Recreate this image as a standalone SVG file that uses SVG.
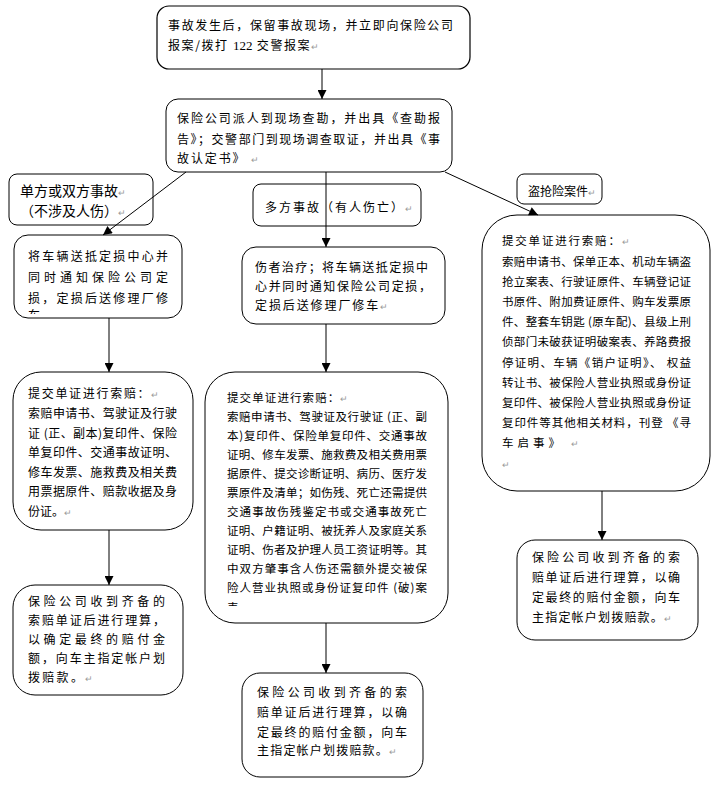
<svg xmlns="http://www.w3.org/2000/svg" width="720" height="792" viewBox="0 0 720 792">
<style>
.box{fill:#fff;stroke:#000;stroke-width:1}
.t{font-family:"Noto Sans CJK SC","Noto Sans CJK JP",sans-serif;font-size:12px;fill:#000}
.s{font-size:11.5px}
.lb{font-size:14px}
.pm{fill:#9a9a9a;font-size:9px}
.ser{font-family:"Liberation Serif",serif;font-size:13px}
.c{stroke:#000;stroke-width:1;fill:none;marker-end:url(#ah)}
</style>
<defs>
<marker id="ah" markerUnits="userSpaceOnUse" markerWidth="10" markerHeight="9" refX="9" refY="4.5" orient="auto" viewBox="0 0 9 9">
<path d="M0,0 L9,4.5 L0,9 Z" fill="#000"/>
</marker>
<clipPath id="clipL1"><rect x="14" y="236" width="168" height="78"/></clipPath>
<clipPath id="clipM2"><rect x="205" y="372" width="243" height="234"/></clipPath>
</defs>
<rect width="720" height="792" fill="#fff"/>

<g id="n-start">
<rect class="box" x="157" y="6" width="313" height="63" rx="12" style="stroke-width:1.2"/>
<text class="t" x="168" y="29.5" textLength="285" lengthAdjust="spacing">事故发生后，保留事故现场，并立即向保险公司</text>
<text class="t" x="168" y="49.5" letter-spacing="1.6">报案/拨打 <tspan class="ser" letter-spacing="0">122</tspan> 交警报案<tspan class="pm">↵</tspan></text>
</g>

<g id="n-survey">
<rect class="box" x="166" y="99" width="286" height="73" rx="12"/>
<text class="t" x="177" y="123" textLength="263" lengthAdjust="spacing">保险公司派人到现场查勘，并出具《查勘报</text>
<text class="t" x="177" y="143.5" textLength="263" lengthAdjust="spacing">告》；交警部门到现场调查取证，并出具《事</text>
<text class="t" x="177" y="163" letter-spacing="1.9">故认定书》 <tspan class="pm">↵</tspan></text>
</g>

<g id="n-label-single">
<rect class="box" x="9" y="174" width="144" height="51" rx="8"/>
<text class="t lb" x="20" y="196">单方或双方事故<tspan class="pm">↵</tspan></text>
<text class="t lb" x="20" y="216">（不涉及人伤）<tspan class="pm">↵</tspan></text>
</g>

<g id="n-label-multi">
<rect class="box" x="253" y="184" width="168" height="42" rx="8"/>
<text class="t" x="265" y="211.5" letter-spacing="2">多方事故（有人伤亡）<tspan class="pm">↵</tspan></text>
</g>

<g id="n-label-theft">
<rect class="box" x="517" y="174" width="85" height="30" rx="7"/>
<text class="t" x="528" y="195.5">盗抢险案件<tspan class="pm">↵</tspan></text>
</g>

<g id="n-left-repair">
<rect class="box" x="14" y="235" width="168" height="83" rx="14"/>
<g clip-path="url(#clipL1)">
<text class="t" x="28" y="260.5" textLength="140" lengthAdjust="spacing">将车辆送抵定损中心并</text>
<text class="t" x="28" y="281.5" textLength="140" lengthAdjust="spacing">同时通知保险公司定</text>
<text class="t" x="28" y="302.5" textLength="140" lengthAdjust="spacing">损，定损后送修理厂修</text>
<text class="t" x="28" y="320">车</text>
</g>
</g>

<g id="n-left-claim">
<rect class="box" x="13" y="372" width="180" height="158" rx="28"/>
<text class="t" x="28" y="398" letter-spacing="1.7">提交单证进行索赔：<tspan class="pm">↵</tspan></text>
<text class="t" x="28" y="418" textLength="149" lengthAdjust="spacing">索赔申请书、驾驶证及行驶</text>
<text class="t" x="28" y="437.5" textLength="149" lengthAdjust="spacing">证 (正、副本)复印件、保险</text>
<text class="t" x="28" y="457" textLength="149" lengthAdjust="spacing">单复印件、交通事故证明、</text>
<text class="t" x="28" y="476.5" textLength="149" lengthAdjust="spacing">修车发票、施救费及相关费</text>
<text class="t" x="28" y="496" textLength="149" lengthAdjust="spacing">用票据原件、赔款收据及身</text>
<text class="t" x="28" y="515.5">份证。<tspan class="pm">↵</tspan></text>
</g>

<g id="n-left-pay">
<rect class="box" x="13" y="585" width="170" height="110" rx="22"/>
<text class="t" x="28" y="606" textLength="137" lengthAdjust="spacing">保险公司收到齐备的</text>
<text class="t" x="28" y="624.5" textLength="137" lengthAdjust="spacing">索赔单证后进行理算，</text>
<text class="t" x="28" y="644" textLength="137" lengthAdjust="spacing">以确定最终的赔付金</text>
<text class="t" x="28" y="663" textLength="137" lengthAdjust="spacing">额，向车主指定帐户划</text>
<text class="t" x="28" y="682" letter-spacing="2.3">拨赔款。<tspan class="pm">↵</tspan></text>
</g>

<g id="n-mid-repair">
<rect class="box" x="242" y="247" width="203" height="77" rx="14"/>
<text class="t" x="255" y="271.5" textLength="173" lengthAdjust="spacing">伤者治疗；将车辆送抵定损中</text>
<text class="t" x="255" y="290.5" textLength="176" lengthAdjust="spacing">心并同时通知保险公司定损，</text>
<text class="t" x="255" y="309.5" letter-spacing="1.9">定损后送修理厂修车<tspan class="pm">↵</tspan></text>
</g>

<g id="n-mid-claim">
<rect class="box" x="205" y="372" width="243" height="251" rx="30"/>
<g clip-path="url(#clipM2)">
<text class="t s" x="227" y="402.4" letter-spacing="1.1">提交单证进行索赔：<tspan class="pm">↵</tspan></text>
<text class="t s" x="227" y="421.4" textLength="200" lengthAdjust="spacing">索赔申请书、驾驶证及行驶证 (正、副</text>
<text class="t s" x="227" y="440.3" textLength="200" lengthAdjust="spacing">本)复印件、保险单复印件、交通事故</text>
<text class="t s" x="227" y="459.2" textLength="200" lengthAdjust="spacing">证明、修车发票、施救费及相关费用票</text>
<text class="t s" x="227" y="478.1" textLength="200" lengthAdjust="spacing">据原件、提交诊断证明、病历、医疗发</text>
<text class="t s" x="227" y="497" textLength="200" lengthAdjust="spacing">票原件及清单；如伤残、死亡还需提供</text>
<text class="t s" x="227" y="515.9" textLength="200" lengthAdjust="spacing">交通事故伤残鉴定书或交通事故死亡</text>
<text class="t s" x="227" y="534.8" textLength="200" lengthAdjust="spacing">证明、户籍证明、被抚养人及家庭关系</text>
<text class="t s" x="227" y="553.7" textLength="200" lengthAdjust="spacing">证明、伤者及护理人员工资证明等。其</text>
<text class="t s" x="227" y="572.6" textLength="200" lengthAdjust="spacing">中双方肇事含人伤还需额外提交被保</text>
<text class="t s" x="227" y="591.5" textLength="200" lengthAdjust="spacing">险人营业执照或身份证复印件 (破)案</text>
<text class="t s" x="227" y="611.5">表  <tspan class="pm">↵</tspan></text>
</g>
</g>

<g id="n-mid-pay">
<rect class="box" x="242" y="673" width="181" height="104" rx="18"/>
<text class="t" x="257" y="696.5" textLength="150" lengthAdjust="spacing">保险公司收到齐备的索</text>
<text class="t" x="257" y="716.5" textLength="150" lengthAdjust="spacing">赔单证后进行理算，以确</text>
<text class="t" x="257" y="736.5" textLength="150" lengthAdjust="spacing">定最终的赔付金额，向车</text>
<text class="t" x="257" y="755" letter-spacing="1.2">主指定帐户划拨赔款。<tspan class="pm">↵</tspan></text>
</g>

<g id="n-right-claim">
<rect class="box" x="482" y="215" width="228" height="276" rx="35"/>
<text class="t s" x="502" y="245.4" letter-spacing="1.8">提交单证进行索赔：<tspan class="pm">↵</tspan></text>
<text class="t s" x="502" y="265.6" textLength="189" lengthAdjust="spacing">索赔申请书、保单正本、机动车辆盗</text>
<text class="t s" x="502" y="285.8" textLength="189" lengthAdjust="spacing">抢立案表、行驶证原件、车辆登记证</text>
<text class="t s" x="502" y="306" textLength="189" lengthAdjust="spacing">书原件、附加费证原件、购车发票原</text>
<text class="t s" x="502" y="326.2" textLength="189" lengthAdjust="spacing">件、整套车钥匙 (原车配)、县级上刑</text>
<text class="t s" x="502" y="346.4" textLength="189" lengthAdjust="spacing">侦部门未破获证明破案表、养路费报</text>
<text class="t s" x="502" y="366.6" textLength="189" lengthAdjust="spacing">停证明、车辆《销户证明》、 权益</text>
<text class="t s" x="502" y="386.8" textLength="189" lengthAdjust="spacing">转让书、被保险人营业执照或身份证</text>
<text class="t s" x="502" y="407" textLength="189" lengthAdjust="spacing">复印件、被保险人营业执照或身份证</text>
<text class="t s" x="502" y="427.2" textLength="189" lengthAdjust="spacing">复印件等其他相关材料，刊登 《寻</text>
<text class="t s" x="502" y="447.4" letter-spacing="4">车启事》 <tspan class="pm">↵</tspan></text>
<text class="t s" x="502" y="467.6"><tspan class="pm">↵</tspan></text>
</g>

<g id="n-right-pay">
<rect class="box" x="517" y="540" width="181" height="100" rx="18"/>
<text class="t" x="532" y="561.5" textLength="148" lengthAdjust="spacing">保险公司收到齐备的索</text>
<text class="t" x="532" y="581.5" textLength="148" lengthAdjust="spacing">赔单证后进行理算，以确</text>
<text class="t" x="532" y="601.5" textLength="148" lengthAdjust="spacing">定最终的赔付金额，向车</text>
<text class="t" x="532" y="621.5" letter-spacing="1.2">主指定帐户划拨赔款。<tspan class="pm">↵</tspan></text>
</g>

<g id="connectors">
<line class="c" x1="322" y1="69" x2="322" y2="99"/>
<line class="c" x1="186" y1="172" x2="103" y2="235"/>
<line class="c" x1="326" y1="172" x2="326" y2="247"/>
<line class="c" x1="445" y1="172" x2="538" y2="215"/>
<line class="c" x1="109" y1="318" x2="109" y2="372"/>
<line class="c" x1="109" y1="530" x2="109" y2="585"/>
<line class="c" x1="326" y1="324" x2="326" y2="372"/>
<line class="c" x1="326" y1="623" x2="326" y2="673"/>
<line class="c" x1="602" y1="491" x2="602" y2="540"/>
</g>
</svg>
